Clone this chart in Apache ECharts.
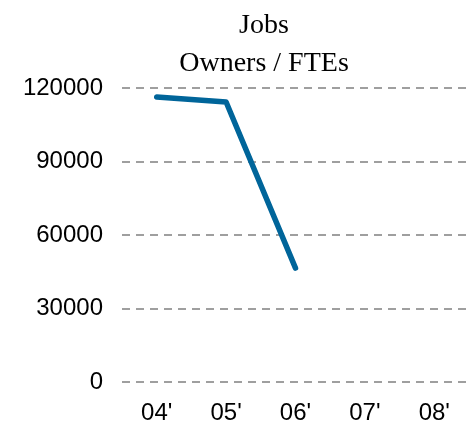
<!DOCTYPE html>
<html><head><meta charset="utf-8">
<script src="https://cdn.jsdelivr.net/npm/echarts@6/dist/echarts.min.js"></script>
<style>html,body{margin:0;padding:0;background:#fff}#c{width:469px;height:430px}</style>
</head><body><div id="c"></div>
<script>
const categories = ["04'", "05'", "06'", "07'", "08'"];
const jobs = [116300, 114300, 46500, null, null];
const yTicks = [0, 30000, 60000, 90000, 120000];

const chart = echarts.init(document.getElementById('c'), null, {renderer: 'canvas'});
chart.setOption({
  animation: false,
  title: {
    text: 'Jobs\nOwners / FTEs',
    left: 259, top: 2, textAlign: 'center',
    textStyle: {fontFamily: 'Liberation Serif', fontSize: 28, fontWeight: 'normal', color: '#000', lineHeight: 38}
  },
  grid: {left: 122, right: -3, top: 88, bottom: 48, containLabel: false},
  xAxis: {
    type: 'category', data: categories, boundaryGap: true,
    axisLine: {show: false}, axisTick: {show: false},
    axisLabel: {fontFamily: 'Liberation Sans', fontSize: 24, color: '#000', margin: 19}
  },
  yAxis: {
    type: 'value', min: yTicks[0], max: yTicks[yTicks.length - 1], interval: 30000,
    axisLine: {show: false}, axisTick: {show: false},
    axisLabel: {fontFamily: 'Liberation Sans', fontSize: 24, color: '#000', margin: 19,
      formatter: v => String(v)},
    splitLine: {show: true, lineStyle: {color: '#808080', width: 1.5, type: [8, 6]}}
  },
  series: [{
    type: 'line', data: jobs, showSymbol: false, symbol: 'none',
    lineStyle: {color: '#00659a', width: 5.5, cap: 'round', join: 'round'}
  }]
});
</script></body></html>
